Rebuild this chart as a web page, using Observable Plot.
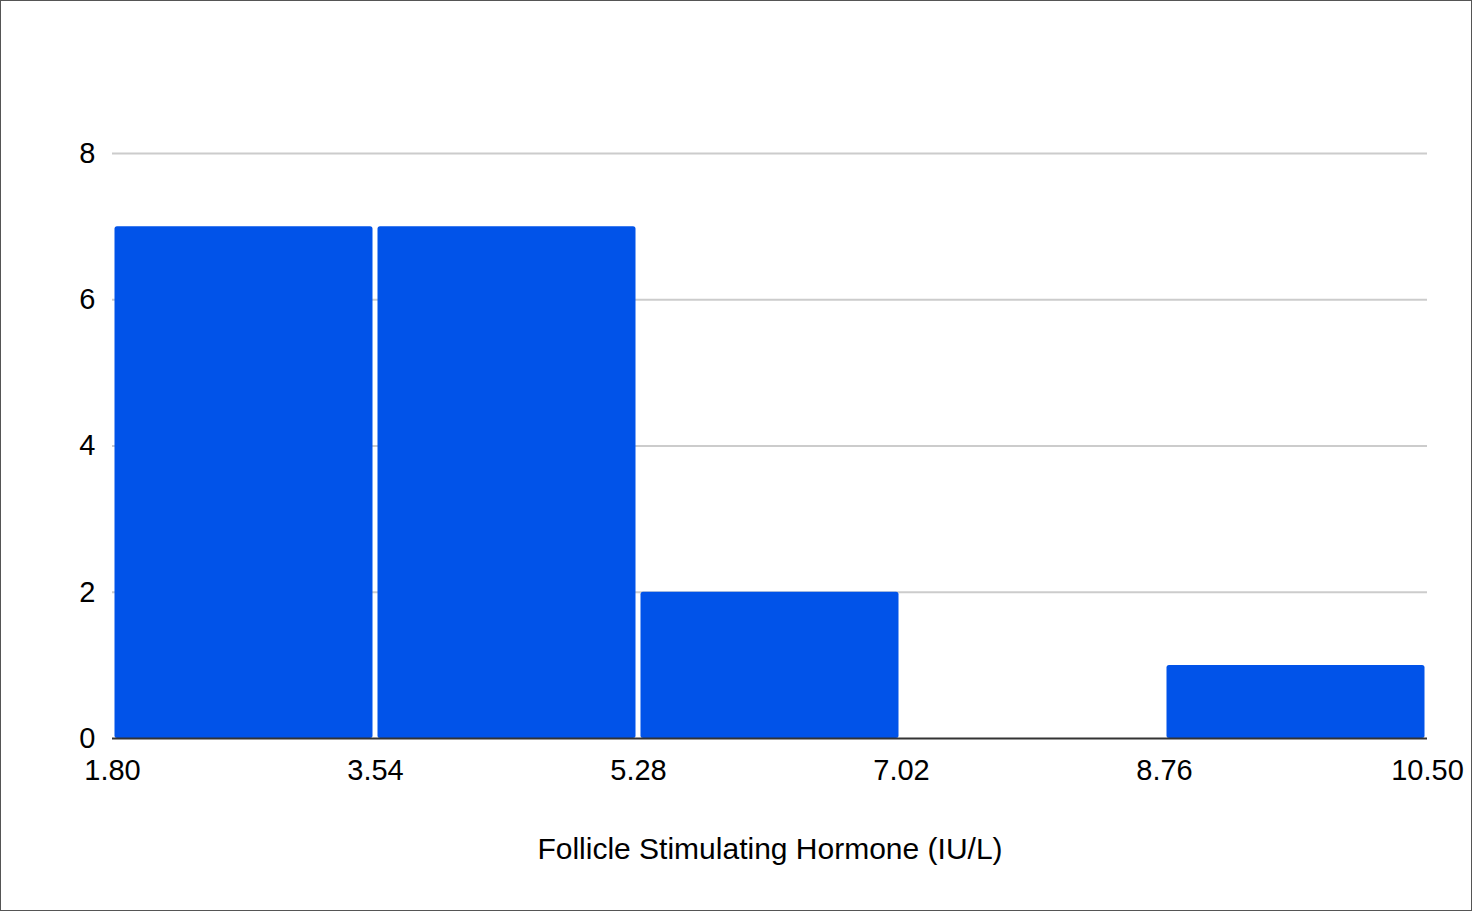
<!DOCTYPE html>
<html>
<head>
<meta charset="utf-8">
<script src="https://cdn.jsdelivr.net/npm/d3@7"></script>
<script src="https://cdn.jsdelivr.net/npm/@observablehq/plot@0.6"></script>
<style>
  html, body { margin: 0; padding: 0; background: #fff; }
  #chart svg { display: block; outline: 1px solid #555; outline-offset: -1px; }
</style>
</head>
<body>
<div id="chart"></div>
<script>
const binEdges = [1.80, 3.54, 5.28, 7.02, 8.76, 10.50];
const counts = [7, 7, 2, 0, 1];
const yTicks = [0, 2, 4, 6, 8];
const xLabel = "Follicle Stimulating Hormone (IU/L)";

const bins = counts.map((c, i) => ({x1: binEdges[i], x2: binEdges[i + 1], count: c}));
const nonEmpty = bins.filter(d => d.count > 0);

const chart = Plot.plot({
  width: 1472,
  height: 911,
  marginLeft: 112,
  marginRight: 45,
  marginTop: 153,
  marginBottom: 173,
  style: {fontFamily: "'Liberation Sans', Arial, sans-serif", fontSize: "29px", color: "#000", background: "#fff"},
  x: {domain: [binEdges[0], binEdges[binEdges.length - 1]], label: null},
  y: {domain: [0, 8], label: null},
  marks: [
    Plot.gridY(yTicks.filter(d => d > 0), {stroke: "#cccccc", strokeOpacity: 1, strokeWidth: 2}),
    Plot.rectY(nonEmpty, {x1: "x1", x2: "x2", y: "count", fill: "#0153E9", insetLeft: 2.5, insetRight: 2.5, rx: 2.5}),
    Plot.ruleY([0], {stroke: "#333", strokeWidth: 2}),
    Plot.axisX({ticks: binEdges, tickFormat: d3.format(".2f"), tickSize: 0, tickPadding: 21, label: null, fontSize: 29}),
    Plot.axisY({ticks: yTicks, tickSize: 0, tickPadding: 17, label: null, fontSize: 29}),
    Plot.text([xLabel], {frameAnchor: "bottom", dy: 111, lineAnchor: "middle", fontSize: 30, fill: "#000", text: d => d})
  ]
});
document.getElementById("chart").appendChild(chart);
</script>
</body>
</html>
